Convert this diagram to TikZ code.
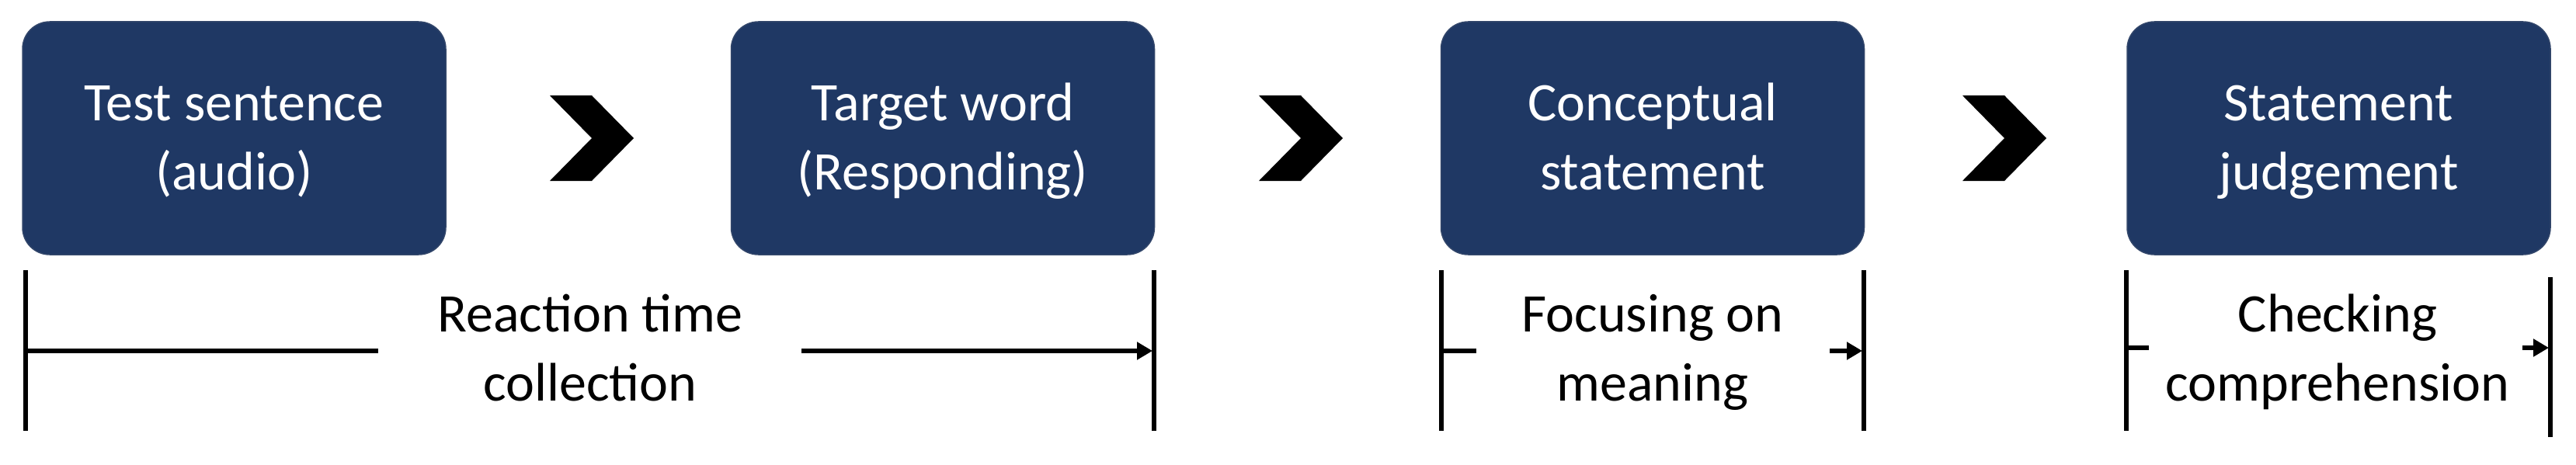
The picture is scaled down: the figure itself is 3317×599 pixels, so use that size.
\documentclass[tikz,border=0pt]{standalone}
\usepackage{fontspec}
\setmainfont{Carlito}
\usetikzlibrary{arrows.meta,calc}
\definecolor{boxblue}{HTML}{1F3864}
\newcommand\bstrut{\rule[-15pt]{0pt}{74pt}}
\begin{document}
\begin{tikzpicture}[x=1pt,y=-1pt,
  stepbox/.style={draw=boxblue!80!gray, line width=1.5pt, fill=boxblue, rounded corners=35pt,
    minimum width=545pt, minimum height=300pt, inner sep=0pt, text=white, align=center,
    font=\fontsize{70}{89}\selectfont},
  lbl/.style={inner sep=0pt, align=center, font=\fontsize{70}{89}\selectfont},
  vbar/.style={line width=6.5pt},
  hbar/.style={line width=6pt},
  harrow/.style={line width=6pt, -{Triangle[length=20pt,width=22pt]}},
  chev/.style={fill=black}]
\useasboundingbox (0,0) rectangle (3317,599);
\fill[white] (0,0) rectangle (3317,599);
% boxes
\node[stepbox] (b1) at (301.5,178) {Test sentence\bstrut\\(audio)\bstrut};
\node[stepbox] (b2) at (1214,178) {Target word\bstrut\\(Responding)\bstrut};
\node[stepbox] (b3) at (2128,178) {Conceptual\bstrut\\statement\bstrut};
\node[stepbox] (b4) at (3011.5,178) {Statement\bstrut\\judgement\bstrut};
% chevrons
\coordinate (c1) at (762,178);
\coordinate (c2) at (1675,178);
\coordinate (c3) at (2581,178);
\foreach \c in {c1,c2,c3}{
  \fill[chev] (\c) ++(-54,-55) -- ++(54,0) -- ++(54,55) -- ++(-54,55) -- ++(-54,0) -- ++(54,-55) -- cycle;
}
% bracket 1
\coordinate (l1t) at (33,348); \coordinate (l1b) at (33,555);
\coordinate (r1t) at (1486,348); \coordinate (r1b) at (1486,555);
\coordinate (l1m) at (33,452); \coordinate (l1e) at (487,452);
\coordinate (r1s) at (1032,452); \coordinate (r1m) at (1484,452);
\draw[vbar] (l1t) -- (l1b);
\draw[vbar] (r1t) -- (r1b);
\draw[hbar] (l1m) -- (l1e);
\draw[harrow] (r1s) -- (r1m);
\node[lbl] (t1) at (760,450) {Reaction time\bstrut\\collection\bstrut};
% bracket 3
\coordinate (l3t) at (1856,348); \coordinate (l3b) at (1856,555);
\coordinate (r3t) at (2400,348); \coordinate (r3b) at (2400,555);
\coordinate (l3m) at (1856,452); \coordinate (l3e) at (1901,452);
\coordinate (r3s) at (2356,452); \coordinate (r3m) at (2398,452);
\draw[vbar] (l3t) -- (l3b);
\draw[vbar] (r3t) -- (r3b);
\draw[hbar] (l3m) -- (l3e);
\draw[harrow] (r3s) -- (r3m);
\node[lbl] (t3) at (2128,450) {Focusing on\bstrut\\meaning\bstrut};
% bracket 4
\coordinate (l4t) at (2738,348); \coordinate (l4b) at (2738,555);
\coordinate (r4t) at (3284,357); \coordinate (r4b) at (3284,563);
\coordinate (l4m) at (2738,448); \coordinate (l4e) at (2767,448);
\coordinate (r4s) at (3248,448); \coordinate (r4m) at (3282,448);
\draw[vbar] (l4t) -- (l4b);
\draw[vbar] (r4t) -- (r4b);
\draw[hbar] (l4m) -- (l4e);
\draw[harrow] (r4s) -- (r4m);
\node[lbl] (t4) at (3010,450) {Checking\bstrut\\comprehension\bstrut};
\end{tikzpicture}
\end{document}
